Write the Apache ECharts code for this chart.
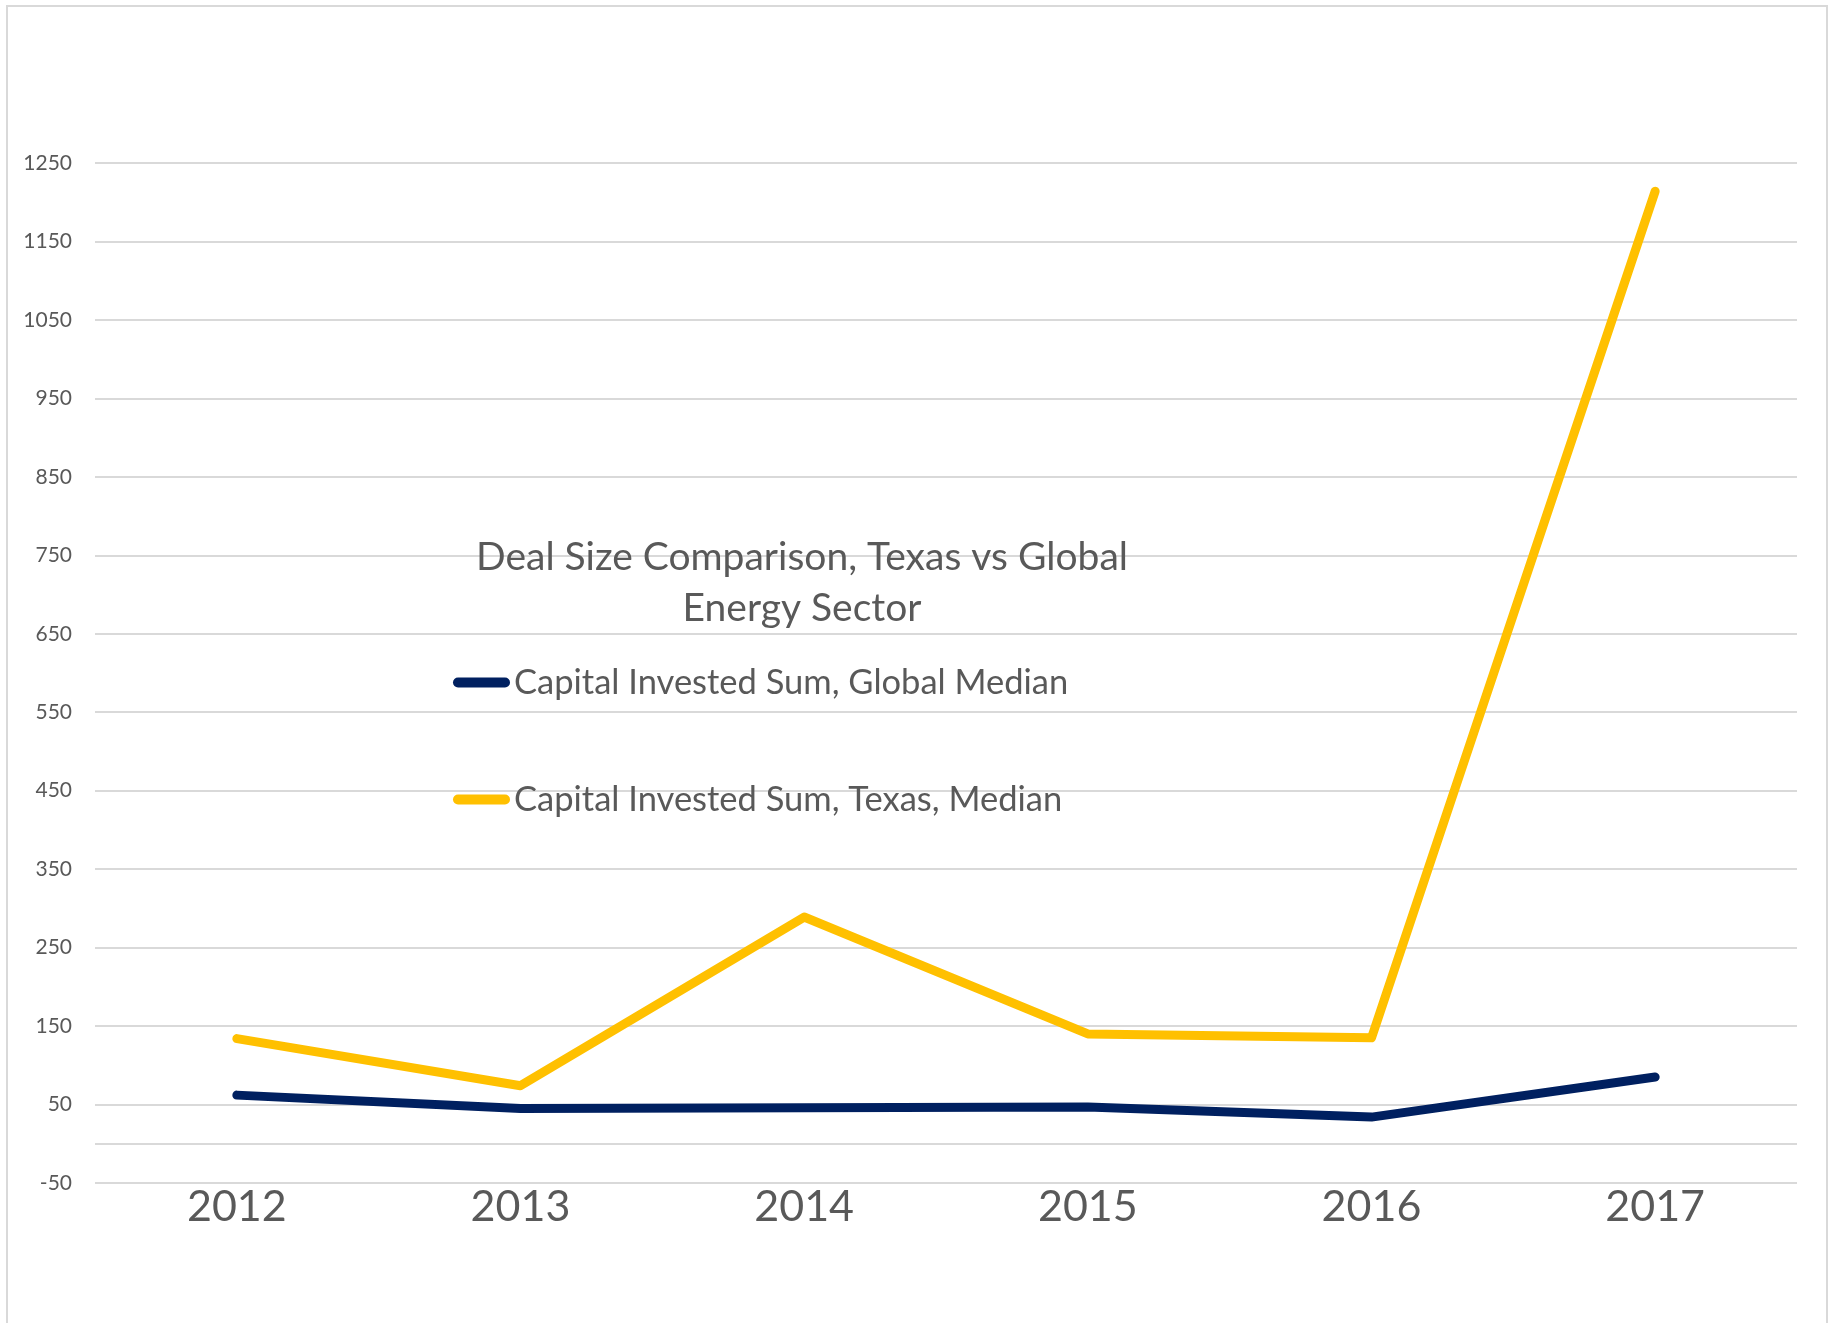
<!DOCTYPE html>
<html>
<head>
<meta charset="utf-8">
<title>Deal Size Comparison, Texas vs Global Energy Sector</title>
<script src="https://cdn.jsdelivr.net/npm/echarts@6/dist/echarts.min.js"></script>
<style>
  html, body { margin: 0; padding: 0; background: #fff; }
  #chart { width: 1834px; height: 1323px; }
</style>
</head>
<body>
<div id="chart"></div>
<script>
// years on the category axis
var years = ['2012', '2013', '2014', '2015', '2016', '2017'];
// median capital invested
var globalMedian = [62, 45, 46, 47, 34, 85];
var texasMedian = [134, 74, 289, 140, 135, 1214];
var seriesNames = ['Capital Invested Sum, Global Median', 'Capital Invested Sum, Texas, Median'];

var textGrey = '#595959';
var gridGrey = '#D9D9D9';
var fontName = 'Lato';
// capsule shaped legend marker
var capsule = 'path://M5,0 L52,0 A5,5 0 0 1 52,10 L5,10 A5,5 0 0 1 5,0 Z';

var myChart = echarts.init(document.getElementById('chart'));

var option = {
  backgroundColor: '#fff',
  animation: false,
  graphic: [{
    type: 'rect',
    shape: { x: 7, y: 6, width: 1820, height: 1340 },
    style: { fill: 'none', stroke: gridGrey, lineWidth: 2 },
    silent: true
  }],
  title: {
    text: 'Deal Size Comparison, Texas vs Global\nEnergy Sector',
    left: 797,
    top: 527,
    textAlign: 'center',
    textStyle: {
      fontFamily: fontName,
      fontWeight: 'normal',
      fontSize: 39,
      lineHeight: 51,
      color: textGrey
    }
  },
  legend: {
    orient: 'vertical',
    left: 448,
    top: 660,
    itemWidth: 57,
    itemHeight: 10,
    itemGap: 82,
    icon: capsule,
    data: seriesNames,
    textStyle: {
      fontFamily: fontName,
      fontSize: 34.5,
      lineHeight: 34,
      color: textGrey,
      padding: [0, 0, 0, -1]
    }
  },
  grid: {
    left: 95,
    right: 37,
    top: 163,
    bottom: 140
  },
  xAxis: {
    type: 'category',
    data: years,
    boundaryGap: true,
    axisLine: { show: false },
    axisTick: { show: false },
    axisLabel: {
      fontFamily: fontName,
      fontSize: 43,
      color: textGrey,
      margin: 3
    }
  },
  yAxis: {
    type: 'value',
    min: -50,
    max: 1250,
    interval: 100,
    axisLine: { show: false },
    axisTick: { show: false },
    axisLabel: {
      fontFamily: fontName,
      fontSize: 21,
      color: textGrey,
      margin: 23,
      formatter: function (v) { return String(v); }
    },
    splitLine: { lineStyle: { color: gridGrey, width: 2 } }
  },
  series: [
    {
      name: seriesNames[0],
      type: 'line',
      data: globalMedian,
      symbol: 'none',
      z: 3,
      itemStyle: { color: '#002060' },
      lineStyle: { color: '#002060', width: 9, cap: 'round', join: 'round' },
      markLine: {
        silent: true,
        symbol: 'none',
        label: { show: false },
        lineStyle: { color: gridGrey, width: 2, type: 'solid' },
        data: [{ yAxis: 0 }]
      }
    },
    {
      name: seriesNames[1],
      type: 'line',
      data: texasMedian,
      symbol: 'none',
      z: 2,
      itemStyle: { color: '#FFC000' },
      lineStyle: { color: '#FFC000', width: 9, cap: 'round', join: 'round' }
    }
  ]
};

myChart.setOption(option);
</script>
</body>
</html>
